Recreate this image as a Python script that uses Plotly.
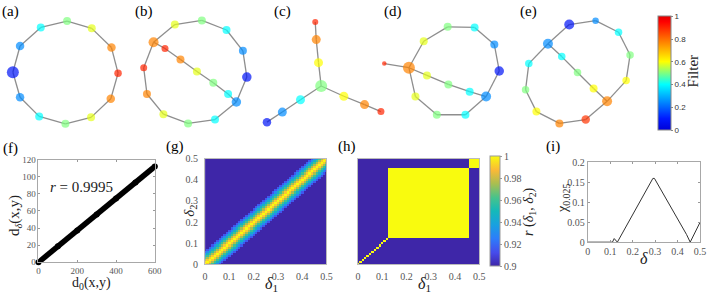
import plotly.graph_objects as go

W, H = 713, 300
SERIF = "Liberation Serif, Times New Roman, serif"
SANS = "Liberation Sans, Arial, sans-serif"

# ---------------- Top row: Mapper graphs ----------------
# node layout coordinates (layout units), filter value, cluster size, edges
a_x = [65.0, 90.0, 110.0, 116.7, 109.3, 89.3, 63.3, 36.7, 17.3, 10.0, 17.3, 38.3]
a_y = [15.7, 23.3, 43.3, 70.0, 96.7, 116.0, 122.7, 115.0, 95.0, 69.0, 41.7, 22.3]
a_filter = [0.5, 0.58, 0.77, 0.9, 0.77, 0.58, 0.5, 0.4, 0.25, 0.08, 0.25, 0.4]
a_members = [16, 16, 17, 15, 17, 16, 16, 16, 17, 24, 17, 16]
a_edges = [(0, 1), (1, 2), (2, 3), (3, 4), (4, 5), (5, 6), (6, 7), (7, 8), (8, 9),
           (9, 10), (10, 11), (11, 0)]

b_x = [24.7, 46.3, 73.7, 98.7, 115.3, 119.3, 108.7, 87.0, 59.7, 34.7, 18.0, 14.7,
       36.3, 52.0, 68.7, 85.3, 100.3]
b_y = [37.7, 19.3, 15.0, 25.0, 46.7, 74.0, 100.0, 118.3, 122.3, 112.7, 91.7, 64.3,
       44.3, 55.7, 68.3, 80.0, 91.7]
b_filter = [0.77, 0.58, 0.5, 0.4, 0.25, 0.08, 0.25, 0.4, 0.5, 0.58, 0.77, 0.9,
            0.9, 0.77, 0.58, 0.5, 0.4]
b_members = [20, 16, 16, 16, 16, 19, 19, 16, 16, 16, 16, 14, 14, 16, 16, 16, 16]
b_edges = [(0, 1), (1, 2), (2, 3), (3, 4), (4, 5), (5, 6), (6, 7), (7, 8), (8, 9),
           (9, 10), (10, 11), (11, 0), (0, 12), (12, 13), (13, 14), (14, 15),
           (15, 16), (16, 6)]

c_x = [60.7, 58.0, 55.7, 54.7, 83.7, 104.7, 121.3, 39.7, 21.3, 5.7]
c_y = [83.3, 59.0, 35.0, 16.7, 94.0, 102.7, 110.0, 97.7, 110.5, 121.0]
c_filter = [0.5, 0.6, 0.77, 0.9, 0.6, 0.77, 0.9, 0.4, 0.25, 0.08]
c_members = [24, 18, 18, 12, 18, 18, 14, 18, 18, 17]
c_edges = [(0, 1), (1, 2), (2, 3), (0, 4), (4, 5), (5, 6), (0, 7), (7, 8), (8, 9)]

d_x = [27.7, 42.7, 67.0, 94.3, 114.3, 119.3, 106.0, 85.0, 56.0, 34.3, 46.0, 67.7, 89.3, 2.7]
d_y = [64.3, 36.7, 21.7, 22.3, 40.0, 67.7, 94.3, 113.3, 113.3, 94.3, 72.3, 81.7, 89.3, 60.0]
d_filter = [0.77, 0.58, 0.5, 0.4, 0.25, 0.08, 0.25, 0.4, 0.5, 0.58, 0.58, 0.5, 0.4, 0.9]
d_members = [24, 16, 16, 16, 16, 19, 20, 16, 16, 16, 16, 16, 16, 9]
d_edges = [(0, 1), (1, 2), (2, 3), (3, 4), (4, 5), (5, 6), (6, 7), (7, 8), (8, 9),
           (9, 0), (0, 10), (10, 11), (11, 12), (12, 6), (13, 0)]

e_x = [56.3, 83.0, 106.3, 118.0, 114.0, 94.7, 73.0, 46.3, 23.0, 12.0, 15.3, 34.7,
       48.7, 64.7, 81.0]
e_y = [19.3, 15.3, 27.3, 51.0, 77.7, 99.3, 118.3, 122.3, 110.0, 87.3, 60.0, 39.3,
       52.7, 69.3, 86.0]
e_filter = [0.08, 0.25, 0.4, 0.5, 0.6, 0.77, 0.88, 0.77, 0.6, 0.5, 0.4, 0.25,
            0.4, 0.5, 0.6]
e_members = [20, 13, 15, 15, 15, 20, 17, 16, 16, 15, 15, 20, 15, 15, 16]
e_edges = [(0, 1), (1, 2), (2, 3), (3, 4), (4, 5), (5, 6), (6, 7), (7, 8), (8, 9),
           (9, 10), (10, 11), (11, 0), (11, 12), (12, 13), (13, 14), (14, 5)]

filter_ticks = [0, 0.2, 0.4, 0.6, 0.8, 1]
filter_ticktext = ["0", "0.2", "0.4", "0.6", "0.8", "1"]

# ---------------- (f) distance correlation ----------------
f_d0 = [0, 100, 200, 300, 400, 500, 600]
f_ddelta = [0, 18.7, 37.3, 56.0, 74.7, 93.3, 112.0]
f_r = "0.9995"

# ---------------- (g), (h) correlation maps ----------------
delta_grid = [round(0.01 * i, 2) for i in range(51)]
g_band_profile = [1.0, 0.99, 0.975, 0.96, 0.945, 0.93, 0.915, 0.9]   # r vs |d1-d2| (grid steps)
h_base = 0.9
h_stable_blocks = [(0.13, 0.45), (0.46, 0.50)]
r_ticks = [0.9, 0.92, 0.94, 0.96, 0.98, 1.0]
r_ticktext = ["0.9", "0.92", "0.94", "0.96", "0.98", "1"]

# ---------------- (i) chi curve ----------------
i_delta = [0, 0.11, 0.118, 0.132, 0.29, 0.297, 0.44, 0.456, 0.5]
i_chi = [0, 0, 0.009, 0, 0.16, 0.16, 0.019, 0, 0.05]

# ---------------- colour scales ----------------
FILTER_SCALE = [[0.0, "rgb(0,0,215)"], [0.1, "rgb(0,25,255)"], [0.4, "rgb(0,255,255)"],
                [0.6, "rgb(255,255,0)"], [0.95, "rgb(255,0,0)"], [1.0, "rgb(225,0,0)"]]
PARULA = [[0.0, "rgb(62,38,168)"], [0.12, "rgb(70,75,235)"], [0.25, "rgb(45,125,250)"],
          [0.37, "rgb(25,160,225)"], [0.5, "rgb(20,185,185)"], [0.62, "rgb(70,195,140)"],
          [0.75, "rgb(170,190,80)"], [0.87, "rgb(250,185,55)"], [1.0, "rgb(249,251,14)"]]


def px_x(p):
    return p / W


def px_y(p):
    return 1 - p / H


fig = go.Figure()
layout = dict(width=W, height=H, margin=dict(l=0, r=0, t=0, b=0),
              font=dict(family=SERIF, size=10, color="#555"),
              paper_bgcolor="white", plot_bgcolor="white", showlegend=False)

panels = [
    (0, 128, a_x, a_y, a_filter, a_members, a_edges),
    (128, 262, b_x, b_y, b_filter, b_members, b_edges),
    (262, 384, c_x, c_y, c_filter, c_members, c_edges),
    (384, 518, d_x, d_y, d_filter, d_members, d_edges),
    (518, 650, e_x, e_y, e_filter, e_members, e_edges),
]
TOP_H = 135
for k, (x0, x1, xs, ys, filt, mem, edges) in enumerate(panels, start=1):
    sfx = "" if k == 1 else str(k)
    layout["xaxis" + sfx] = dict(domain=[px_x(x0), px_x(x1)], range=[0, x1 - x0],
                                 visible=False, anchor="y" + sfx, fixedrange=True)
    layout["yaxis" + sfx] = dict(domain=[px_y(TOP_H), 1], range=[TOP_H, 0],
                                 visible=False, anchor="x" + sfx, fixedrange=True)
    ex, ey = [], []
    for i, j in edges:
        ex += [xs[i], xs[j], None]
        ey += [ys[i], ys[j], None]
    fig.add_trace(go.Scatter(x=ex, y=ey, mode="lines", xaxis="x" + sfx, yaxis="y" + sfx,
                             line=dict(color="#8e8e8e", width=1.3), hoverinfo="skip",
                             cliponaxis=False))
    marker = dict(size=mem, sizemode="diameter", sizeref=2, color=filt,
                  colorscale=FILTER_SCALE, cmin=0, cmax=1, line=dict(width=0),
                  showscale=(k == 5))
    if k == 5:
        marker["colorbar"] = dict(
            x=px_x(664), xanchor="left", xpad=0, y=px_y(70), yanchor="middle", ypad=0,
            len=114, lenmode="pixels", thickness=13, thicknessmode="pixels",
            outlinewidth=1, outlinecolor="#888",
            tickvals=filter_ticks, ticktext=filter_ticktext,
            tickfont=dict(family=SANS, size=8, color="#333"),
            ticks="outside", ticklen=2, tickcolor="#888")
    fig.add_trace(go.Scatter(x=xs, y=ys, mode="markers", xaxis="x" + sfx, yaxis="y" + sfx,
                             marker=marker, cliponaxis=False))

# ---------- common axis style ----------
def frame_axis(domain, rng, anchor, tickvals, fsize, mirror="ticks", ticks="inside",
               linecolor="#a8a8a8"):
    return dict(domain=domain, range=rng, anchor=anchor, tickvals=tickvals,
                showgrid=False, zeroline=False, showline=True, linecolor=linecolor,
                linewidth=1, mirror=mirror, ticks=ticks, ticklen=2, tickcolor="#999",
                tickfont=dict(family=SERIF, size=fsize, color="#555"), fixedrange=True)

# (f)
layout["xaxis6"] = frame_axis([px_x(36), px_x(154)], [0, 600], "y6", [0, 200, 400, 600], 9)
layout["yaxis6"] = frame_axis([px_y(267), px_y(160)], [0, 120], "x6",
                              [0, 20, 40, 60, 80, 100, 120], 9)
fig.add_trace(go.Scatter(x=f_d0, y=f_ddelta, mode="lines+markers", xaxis="x6", yaxis="y6",
                         line=dict(color="black", width=5.5),
                         marker=dict(color="black", size=6), cliponaxis=False))

# (g)
g_z = [[g_band_profile[min(abs(i - j), len(g_band_profile) - 1)] for j in range(len(delta_grid))]
       for i in range(len(delta_grid))]
dticks = [0, 0.1, 0.2, 0.3, 0.4, 0.5]
layout["xaxis7"] = frame_axis([px_x(205), px_x(328)], [0, 0.5], "y7", dticks, 10,
                              mirror=True, ticks="", linecolor="#bbb")
layout["yaxis7"] = frame_axis([px_y(269), px_y(159)], [0, 0.5], "x7", dticks, 10,
                              mirror=True, ticks="", linecolor="#bbb")
layout["xaxis7"]["ticklabelstandoff"] = 3
layout["yaxis7"]["ticklabelstandoff"] = 4
fig.add_trace(go.Heatmap(z=g_z, x=delta_grid, y=delta_grid, xaxis="x7", yaxis="y7",
                         colorscale=PARULA, zmin=0.9, zmax=1.0, showscale=False))

# (h)
def in_block(v, lo, hi):
    return lo - 1e-9 <= v <= hi + 1e-9

h_z = []
for i, dy in enumerate(delta_grid):
    row = []
    for j, dx in enumerate(delta_grid):
        stable = i == j or any(in_block(dx, lo, hi) and in_block(dy, lo, hi)
                               for lo, hi in h_stable_blocks)
        row.append(1.0 if stable else h_base)
    h_z.append(row)
layout["xaxis8"] = frame_axis([px_x(360), px_x(483)], [0, 0.5], "y8", dticks, 10,
                              mirror=True, ticks="", linecolor="#bbb")
layout["yaxis8"] = frame_axis([px_y(269), px_y(159)], [0, 0.5], "x8", dticks, 10,
                              mirror=True, ticks="", linecolor="#bbb")
layout["xaxis8"]["ticklabelstandoff"] = 3
layout["yaxis8"]["showticklabels"] = False
fig.add_trace(go.Heatmap(z=h_z, x=delta_grid, y=delta_grid, xaxis="x8", yaxis="y8",
                         colorscale=PARULA, zmin=0.9, zmax=1.0, showscale=True,
                         colorbar=dict(x=px_x(494), xanchor="left", xpad=0,
                                       y=px_y(214), yanchor="middle", ypad=0,
                                       len=110, lenmode="pixels", thickness=10,
                                       outlinewidth=1, outlinecolor="#999",
                                       tickvals=r_ticks, ticktext=r_ticktext,
                                       tickfont=dict(family=SERIF, size=10, color="#555"),
                                       ticks="outside", ticklen=2, tickcolor="#999")))

# (i)
layout["xaxis9"] = frame_axis([px_x(593), px_x(707)], [0, 0.5], "y9", dticks, 10)
layout["yaxis9"] = frame_axis([px_y(246), px_y(163)], [0, 0.2], "x9",
                              [0, 0.05, 0.1, 0.15, 0.2], 10)
fig.add_trace(go.Scatter(x=i_delta, y=i_chi, mode="lines", xaxis="x9", yaxis="y9",
                         line=dict(color="#333", width=1)))

# ---------- text ----------
def ann(text, px, py, size, angle=0, family=SERIF, color="#222"):
    return dict(x=px_x(px), y=px_y(py), xref="paper", yref="paper", text=text,
                showarrow=False, textangle=angle, xanchor="center", yanchor="middle",
                font=dict(family=family, size=size, color=color))

annotations = [
    ann("(a)", 8, 6, 15, color="black"),
    ann("(b)", 143.5, 6, 15, color="black"),
    ann("(c)", 283, 6, 15, color="black"),
    ann("(d)", 396, 6, 15, color="black"),
    ann("(e)", 532.5, 6, 15, color="black"),
    ann("(f)", 7.5, 148, 15, color="black"),
    ann("(g)", 174, 146, 15, color="black"),
    ann("(h)", 349, 146, 15, color="black"),
    ann("(i)", 558, 146, 15, color="black"),
    ann("Filter", 700, 68, 15, angle=-90),
    ann("<i>r</i> = " + f_r, 80, 189, 15),
    ann("d<sub>0</sub>(x,y)", 90, 289.5, 14),
    ann("d<sub><i>δ</i></sub>(x,y)", 12, 218, 15, angle=-90),
    ann("<i>δ</i><sub>1</sub>", 272, 290, 16),
    ann("<i>δ</i><sub>2</sub>", 190, 213, 15, angle=-90),
    ann("<i>δ</i><sub>1</sub>", 427, 290, 16),
    ann("<i>r</i> (<i>δ</i><sub>1</sub>, <i>δ</i><sub>2</sub>)", 534, 215, 14, angle=-90),
    ann("<i>δ</i>", 650, 263, 16),
    ann("χ<sub>0.025</sub>", 569, 201, 14, angle=-90),
]
layout["annotations"] = annotations
fig.update_layout(**layout)
fig.write_html("out.html", config={"displayModeBar": False},
               post_script="document.body.style.margin='0';")
